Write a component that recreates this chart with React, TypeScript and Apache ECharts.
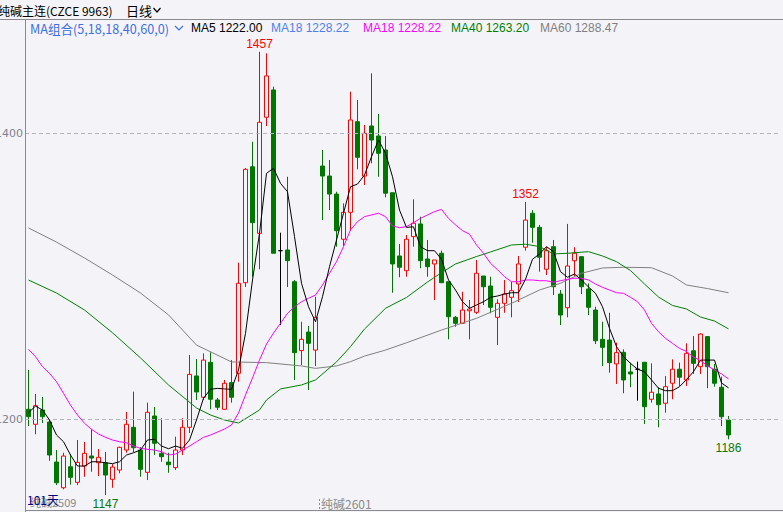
import React, { useEffect, useRef } from 'react';
import * as echarts from 'echarts';

// ---- data ----
const categories: string[] = [];
for (let i = 1; i <= 108; i++) categories.push(String(i));

const opens = [1207.0,1196.5,1206.5,1198.1,1170.1,1152.1,1166.8,1155.9,1167.3,1174.3,1169.6,1169.6,1158.0,1164.5,1178.5,1194.4,1178.5,1162.9,1202.3,1176.2,1170.1,1166.2,1178.5,1194.4,1230.3,1215.4,1239.8,1213.5,1207.0,1225.6,1232.2,1295.5,1376.6,1330.0,1411.2,1430.3,1317.9,1318.4,1296.2,1248.0,1261.0,1248.4,1377.1,1370.1,1357.5,1325.9,1344.7,1408.1,1370.1,1405.1,1398.1,1388.3,1358.4,1314.2,1303.9,1327.7,1336.6,1312.1,1308.6,1316.1,1296.2,1271.3,1267.1,1275.9,1274.8,1300.2,1293.2,1271.3,1281.1,1285.3,1294.6,1320.3,1344.1,1334.2,1304.9,1320.7,1287.6,1278.0,1310.9,1313.7,1291.1,1276.4,1255.9,1255.4,1238.7,1246.8,1233.1,1235.0,1239.9,1214.0,1217.7,1211.2,1225.2,1235.0,1227.5,1247.9,1236.8,1257.8,1235.0,1222.4,1199.5];
const closes = [1201.8,1209.5,1201.8,1175.0,1155.6,1174.3,1159.4,1169.9,1176.2,1172.9,1173.4,1161.0,1166.6,1180.4,1196.5,1180.1,1165.0,1204.9,1183.2,1173.8,1168.2,1178.5,1194.4,1231.4,1219.1,1241.4,1214.0,1208.4,1225.2,1215.4,1295.1,1374.8,1337.5,1407.7,1440.1,1316.1,1317.9,1310.9,1246.6,1255.9,1253.1,1271.3,1370.1,1357.5,1331.9,1344.7,1409.3,1383.2,1400.0,1395.3,1386.0,1358.1,1308.6,1306.3,1325.9,1337.1,1310.9,1306.7,1311.4,1295.5,1271.7,1267.1,1276.4,1277.1,1302.1,1292.7,1278.3,1281.1,1287.6,1289.9,1308.6,1339.3,1334.2,1313.3,1317.9,1292.7,1272.9,1307.2,1316.1,1292.7,1278.3,1254.9,1250.3,1239.6,1246.6,1227.5,1231.7,1235.0,1208.8,1218.9,1210.2,1222.8,1235.0,1229.4,1246.1,1239.1,1259.6,1236.8,1225.2,1201.8,1189.0];
const lows = [1195.3,1189.5,1197.4,1171.0,1154.0,1151.0,1154.3,1154.0,1159.8,1163.3,1160.3,1147.0,1152.1,1162.2,1176.6,1177.0,1159.8,1157.5,1175.0,1170.3,1162.6,1164.5,1175.0,1190.4,1213.5,1213.5,1207.0,1206.5,1206.5,1211.6,1226.3,1292.5,1299.7,1304.9,1405.1,1316.1,1265.9,1292.5,1227.5,1237.9,1220.5,1237.2,1339.3,1346.3,1320.7,1321.2,1331.9,1374.8,1363.8,1379.0,1369.6,1355.2,1288.5,1299.3,1299.7,1320.7,1305.6,1299.7,1283.4,1295.5,1255.9,1264.7,1266.6,1255.9,1273.6,1279.9,1274.1,1251.9,1274.5,1271.3,1282.0,1317.9,1323.5,1303.2,1300.9,1286.9,1265.9,1271.3,1300.2,1287.6,1272.9,1252.6,1237.2,1232.6,1224.7,1218.2,1222.4,1213.0,1196.7,1211.6,1194.4,1204.6,1214.0,1223.3,1223.3,1231.7,1231.7,1221.7,1222.8,1195.3,1186.0];
const highs = [1234.5,1217.7,1215.6,1199.5,1178.5,1176.6,1175.7,1185.5,1184.1,1193.0,1179.2,1177.1,1168.7,1180.8,1205.1,1219.3,1180.6,1211.6,1208.6,1200.7,1176.6,1187.8,1200.7,1245.0,1242.1,1246.1,1246.8,1214.9,1227.5,1241.4,1309.5,1375.7,1394.1,1457.0,1455.9,1432.6,1330.5,1369.6,1297.4,1268.2,1265.2,1285.7,1388.3,1381.3,1359.1,1351.0,1429.1,1423.3,1405.8,1441.9,1413.5,1398.1,1358.4,1322.6,1328.9,1353.8,1341.7,1325.4,1311.4,1317.9,1296.2,1272.2,1289.2,1283.4,1311.4,1300.2,1299.7,1283.9,1297.4,1296.2,1314.2,1352.0,1346.3,1335.9,1320.7,1325.4,1290.4,1336.6,1320.3,1314.2,1295.1,1278.7,1268.2,1274.5,1253.6,1248.9,1239.6,1240.3,1239.9,1239.1,1222.4,1230.3,1241.9,1239.6,1253.1,1258.2,1260.1,1258.2,1238.7,1229.8,1202.3];
const dojiDays = [36, 87];

const ma5 = [1204.6,1209.2,1206.5,1199.5,1189.0,1184.3,1175.0,1167.3,1167.3,1170.3,1170.3,1169.6,1169.0,1170.3,1175.0,1176.6,1178.5,1185.5,1186.0,1181.3,1179.4,1181.3,1179.7,1185.5,1199.5,1214.7,1221.0,1221.6,1221.2,1221.0,1234.5,1260.1,1297.4,1330.0,1372.0,1375.5,1365.0,1359.1,1327.7,1295.1,1278.7,1268.2,1285.7,1306.7,1325.4,1344.1,1362.6,1364.5,1370.8,1383.6,1395.3,1386.0,1369.6,1346.3,1334.2,1334.6,1320.7,1317.9,1317.9,1311.9,1297.4,1290.4,1282.2,1277.6,1279.9,1282.2,1285.3,1286.2,1287.6,1288.5,1288.5,1297.9,1311.9,1315.6,1320.7,1317.2,1303.2,1299.3,1301.6,1297.4,1292.5,1288.1,1278.7,1263.6,1250.8,1243.8,1239.1,1235.0,1233.3,1227.5,1221.7,1220.0,1220.0,1222.8,1227.8,1233.3,1241.4,1241.4,1241.4,1225.4,1222.0];
const ma18 = [1248.9,1243.8,1236.8,1232.1,1226.3,1218.2,1209.9,1203.0,1197.2,1193.0,1189.7,1187.4,1185.5,1184.3,1183.6,1181.3,1179.7,1179.0,1178.5,1177.3,1175.0,1175.7,1178.5,1181.3,1184.3,1187.4,1189.0,1191.1,1193.2,1196.0,1204.4,1217.0,1228.9,1241.4,1252.6,1260.3,1267.1,1274.1,1278.7,1282.2,1284.6,1286.9,1293.9,1302.1,1310.2,1320.7,1332.4,1338.2,1341.7,1342.9,1344.1,1341.7,1335.2,1334.0,1334.7,1337.5,1340.5,1342.9,1345.2,1346.8,1340.5,1335.9,1331.9,1329.4,1321.9,1316.1,1309.1,1304.6,1299.7,1296.2,1296.2,1297.4,1297.4,1296.9,1296.9,1295.8,1296.9,1297.9,1298.6,1298.6,1297.4,1294.6,1292.3,1290.4,1288.5,1288.1,1285.3,1282.2,1276.4,1267.1,1261.2,1256.6,1253.1,1249.6,1247.4,1243.4,1241.1,1237.3,1234.5,1231.7,1228.22];
// [day index, value] read where the smooth lines could be measured
const ma40 = [[0,1297.4],[4,1288.3],[8,1276.4],[12,1260.5],[16,1242.9],[20,1224.0],[24,1207.9],[26,1203.0],[28,1199.5],[30,1197.4],[33,1206.5],[34,1213.5],[36,1221.2],[39,1224.0],[41,1227.5],[44,1240.1],[46,1250.8],[48,1263.1],[51,1277.6],[54,1285.2],[57,1296.0],[59,1302.5],[61,1308.6],[64,1313.8],[66,1317.0],[69,1321.9],[71,1322.4],[73,1320.8],[75,1315.6],[77,1316.1],[80,1317.2],[82,1314.2],[84,1310.2],[86,1304.0],[88,1294.6],[90,1285.5],[92,1279.6],[94,1277.1],[96,1271.5],[98,1268.7],[100,1263.2]];
const ma60 = [[0,1333.8],[4,1323.9],[8,1312.8],[12,1300.9],[16,1288.3],[20,1273.0],[24,1251.9],[29,1240.1],[34,1239.6],[39,1237.3],[41,1235.6],[44,1237.3],[46,1240.3],[48,1244.2],[51,1248.4],[54,1253.5],[59,1262.4],[64,1270.6],[69,1281.1],[73,1290.4],[76,1295.1],[79,1302.1],[82,1305.8],[85,1306.3],[89,1306.0],[92,1300.2],[94,1293.9],[97,1291.4],[100,1288.47]];

const gridLevels = [1400, 1200];
const legendItems = [
  { text: 'MA5 1222.00', color: '#000000', x: 191 },
  { text: 'MA18 1228.22', color: '#4f7fef', x: 271 },
  { text: 'MA18 1228.22', color: '#ff00ff', x: 363 },
  { text: 'MA40 1263.20', color: '#008000', x: 451 },
  { text: 'MA60 1288.47', color: '#808080', x: 540 },
];

const BG = '#f4f4f8';
const UP = '#ff0000';
const DOWN = '#007800';
const FONT = '"Liberation Sans", Arial, sans-serif';
const CJK = '"Noto Sans CJK SC", "Liberation Sans", sans-serif';

export default function App() {
  const ref = useRef<HTMLDivElement>(null);
  useEffect(() => {
    if (!ref.current) return;
    const chart = echarts.init(ref.current, undefined, { renderer: 'svg' });
    const candleData = opens.map((o, i) => {
      const v = [o, closes[i], lows[i], highs[i]];
      if (dojiDays.includes(i)) {
        return { value: v, itemStyle: { color: '#000', color0: '#000', borderColor: '#000', borderColor0: '#000' } };
      }
      return v;
    });
    const maxI = highs.indexOf(Math.max(...highs.slice(0, 60)));
    const maxI2 = 71;
    const minI = lows.indexOf(Math.min(...lows));
    const lastI = lows.length - 1;
    const lineCommon = { type: 'line', symbol: 'none', showSymbol: false, smooth: false, connectNulls: true, silent: true };
    const txt = (x: number, y: number, text: string, fill: string, font: string, align = 'left') => ({
      type: 'text', x, y, silent: true, z: 100,
      style: { text, fill, font, align, verticalAlign: 'middle' },
    });
    chart.setOption({
      animation: false,
      backgroundColor: BG,
      grid: { left: 25, right: 2, top: 19, bottom: 2 },
      xAxis: {
        type: 'category', data: categories, boundaryGap: true,
        axisLine: { show: false }, axisTick: { show: false }, axisLabel: { show: false }, splitLine: { show: false },
      },
      yAxis: {
        type: 'value', min: 1136.56, max: 1479.91, scale: true,
        axisLine: { show: false }, axisTick: { show: false }, axisLabel: { show: false }, splitLine: { show: false },
      },
      series: [
        {
          type: 'candlestick', data: candleData, barWidth: 4, z: 2,
          itemStyle: { color: BG, color0: DOWN, borderColor: UP, borderColor0: DOWN, borderWidth: 1 },
          markLine: {
            silent: true, symbol: 'none', animation: false,
            lineStyle: { type: [4, 3], color: '#b4b4bc', width: 1 },
            label: { show: true, position: 'start', distance: 2, color: '#7f8090', fontSize: 11, fontFamily: '"DejaVu Sans", sans-serif', formatter: '{c}' },
            data: gridLevels.map((v) => ({ yAxis: v })),
          },
          markPoint: {
            symbol: 'circle', symbolSize: 1, itemStyle: { color: 'rgba(0,0,0,0)' }, silent: true, animation: false,
            label: { show: true, fontSize: 12, fontFamily: FONT, formatter: '{c}' },
            data: [
              { coord: [categories[maxI], highs[maxI]], value: highs[maxI], label: { position: 'top', distance: 1, color: UP } },
              { coord: [categories[maxI2], highs[maxI2]], value: highs[maxI2], label: { position: 'top', distance: 1, color: UP } },
              { coord: [categories[minI], lows[minI]], value: lows[minI], label: { position: 'bottom', distance: 2, color: '#0a780a' } },
              { coord: [categories[lastI], lows[lastI]], value: lows[lastI], label: { position: 'bottom', distance: 2, color: '#0a780a' } },
            ],
          },
        },
        { ...lineCommon, name: 'MA60', data: ma60, z: 3, lineStyle: { width: 1, color: '#808080' } },
        { ...lineCommon, name: 'MA40', data: ma40, z: 4, lineStyle: { width: 1, color: '#008000' } },
        { ...lineCommon, name: 'MA18', data: ma18, z: 5, lineStyle: { width: 1, color: '#ff00ff' } },
        { ...lineCommon, name: 'MA5', data: ma5, z: 6, lineStyle: { width: 1, color: '#000000' } },
      ],
      graphic: [
        { type: 'line', silent: true, z: 90, shape: { x1: 0, y1: 19.5, x2: 783, y2: 19.5 }, style: { stroke: '#8a8a8e', lineWidth: 1 } },
        { type: 'line', silent: true, z: 90, shape: { x1: 25.5, y1: 19, x2: 25.5, y2: 512 }, style: { stroke: '#8a8a8e', lineWidth: 1 } },
        { type: 'line', silent: true, z: 90, shape: { x1: 25, y1: 510.5, x2: 783, y2: 510.5 }, style: { stroke: '#8a8a8e', lineWidth: 1 } },
        txt(-2, 10, '纯碱主连(CZCE 9963)', '#000000', '12px ' + CJK),
        txt(126, 10, '日线', '#000000', '13px ' + CJK),
        { type: 'polyline', silent: true, z: 100, shape: { points: [[153.5, 8], [157, 12], [160.5, 8]] }, style: { stroke: '#000', lineWidth: 1.2, fill: null } },
        txt(30, 28, 'MA组合(5,18,18,40,60,0)', '#3c6ee6', '12.6px ' + CJK),
        { type: 'polyline', silent: true, z: 100, shape: { points: [[175, 26], [179, 30], [183, 26]] }, style: { stroke: '#3c6ee6', lineWidth: 1.2, fill: null } },
        ...legendItems.map((l) => txt(l.x, 28, l.text, l.color, '12px ' + FONT)),
        txt(30, 502, '纯碱2509', '#8a8a8a', '11px ' + CJK),
        txt(27, 499, '101天', '#00007f', '12px ' + CJK),
        txt(321, 503, '纯碱2601', '#8a8a8a', '12px ' + CJK),
        { type: 'line', silent: true, z: 100, shape: { x1: 319.5, y1: 499, x2: 319.5, y2: 509 }, style: { stroke: '#8a8a8a', lineWidth: 1, lineDash: [2, 2] } },
      ],
    });
    return () => chart.dispose();
  }, []);
  return <div ref={ref} style={{ position: 'absolute', left: 0, top: 0, width: 783, height: 512 }} />;
}
